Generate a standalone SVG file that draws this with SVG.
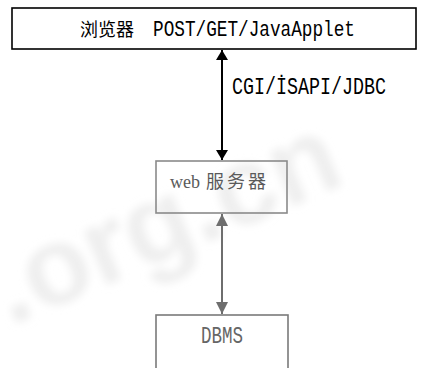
<svg xmlns="http://www.w3.org/2000/svg" width="429" height="368" viewBox="0 0 429 368">
  <style>
    .box { fill: none; stroke-width: 1.6; }
    .mono { font-family: "Liberation Mono", "DejaVu Sans Mono", monospace; font-size: 17px; }
    .cjk { font-family: "Noto Sans CJK SC", "Liberation Serif", sans-serif; font-size: 18px; }
    .serif { font-family: "Liberation Serif", "Noto Sans CJK SC", serif; font-size: 18px; }
  </style>
  <defs>
    <marker id="headBlack" viewBox="0 0 10 12" refX="10" refY="6" markerWidth="10" markerHeight="12" markerUnits="userSpaceOnUse" orient="auto-start-reverse">
      <path d="M0,0 L10,6 L0,12 Z" fill="#000000"/>
    </marker>
    <marker id="headGrey" viewBox="0 0 12 12" refX="12" refY="6" markerWidth="12" markerHeight="12" markerUnits="userSpaceOnUse" orient="auto-start-reverse">
      <path d="M0,0 L12,6 L0,12 Z" fill="#6e6e6e"/>
    </marker>
    <filter id="soft" filterUnits="userSpaceOnUse" x="0" y="0" width="429" height="368">
      <feGaussianBlur stdDeviation="4"/>
    </filter>
  </defs>

  <rect width="429" height="368" fill="#ffffff"/>

  <!-- faint background lettering -->
  <g filter="url(#soft)">
    <text x="10" y="326" transform="rotate(-23 10 326)" fill="#e8e8e8" opacity="0.75"
          font-family="Liberation Sans, sans-serif" font-size="110" font-weight="bold">.org.cn</text>
  </g>

  <g id="browser">
    <rect class="box" x="12" y="8" width="404" height="41" stroke="#000000"/>
    <text class="cjk" x="80" y="36" fill="#000000">浏览器</text>
    <text class="mono" transform="translate(153 36) scale(1 1.3)" fill="#000000" textLength="202" lengthAdjust="spacingAndGlyphs">POST/GET/JavaApplet</text>
  </g>

  <g id="web-server">
    <rect class="box" x="156" y="161" width="131" height="52" stroke="#8a8a8a"/>
    <text class="serif" x="170" y="188" fill="#5a5a5a">web</text>
    <text class="cjk" x="206" y="188" fill="#5a5a5a" letter-spacing="3">服务器</text>
  </g>

  <g id="dbms">
    <rect class="box" x="156" y="315" width="132" height="60" stroke="#7a7a7a"/>
    <text class="mono" transform="translate(201 343) scale(1 1.4)" fill="#666666" textLength="42" lengthAdjust="spacingAndGlyphs">DBMS</text>
  </g>

  <g id="connectors">
    <line x1="222" y1="50" x2="222" y2="160" stroke="#000000" stroke-width="2" marker-start="url(#headBlack)" marker-end="url(#headBlack)"/>
    <text class="mono" transform="translate(232 94) scale(1 1.4)" fill="#000000" textLength="154" lengthAdjust="spacingAndGlyphs">CGI/İSAPI/JDBC</text>
    <line x1="222" y1="214" x2="222" y2="314" stroke="#6e6e6e" stroke-width="2" marker-start="url(#headGrey)" marker-end="url(#headGrey)"/>
  </g>
</svg>
